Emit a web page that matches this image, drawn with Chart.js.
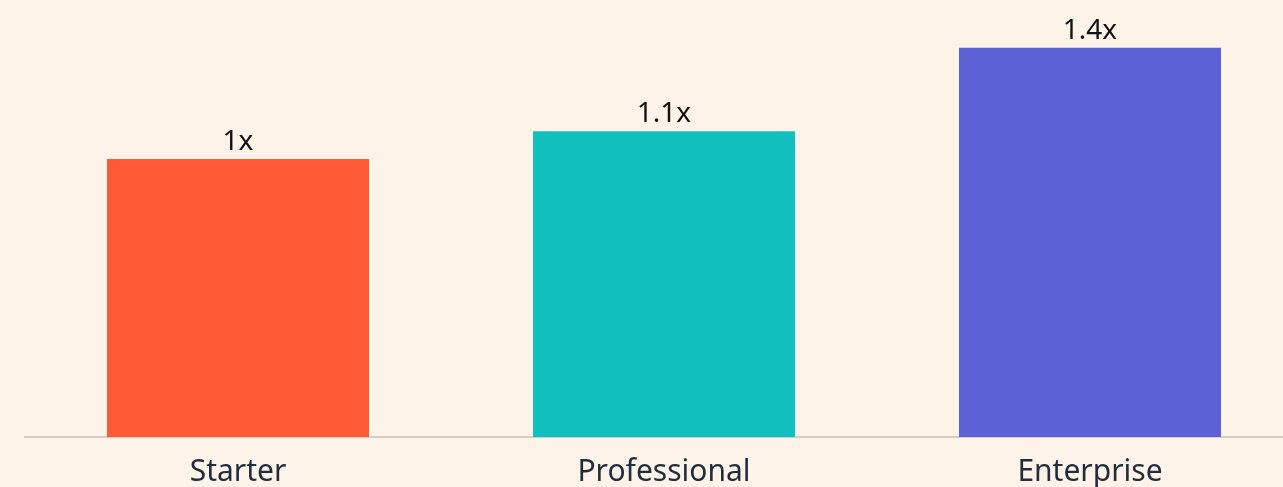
<!DOCTYPE html>
<html>
<head>
<meta charset="utf-8">
<script src="https://cdn.jsdelivr.net/npm/chart.js@4"></script>
<style>
    html, body { margin: 0; padding: 0; background: #FDF3E8; overflow: hidden; }
    #wrap { width: 1303px; height: 507px; position: relative; }
</style>
</head>
<body>
<div id="wrap"><canvas id="planChart"></canvas></div>
<script>
"use strict";
const plans = ['Starter', 'Professional', 'Enterprise'];
const multipliers = [1, 1.1, 1.4];
const valueLabels = ['1x', '1.1x', '1.4x'];
const barColors = ['#FF5A36', '#12BFBF', '#5C62D6'];

// draws the "1x" style labels above each bar
const valueLabelPlugin = {
    id: 'valueLabels',
    afterDatasetsDraw(chart) {
        const ctx = chart.ctx;
        const meta = chart.getDatasetMeta(0);
        ctx.save();
        ctx.font = '28px "Source Sans Pro", "Noto Sans", sans-serif';
        ctx.fillStyle = '#111111';
        ctx.textAlign = 'center';
        ctx.textBaseline = 'bottom';
        meta.data.forEach((bar, index) => {
            ctx.fillText(valueLabels[index], bar.x, bar.y - 3);
        });
        ctx.restore();
    }
};

const ctx = document.getElementById('planChart').getContext('2d');
new Chart(ctx, {
    type: 'bar',
    data: {
        labels: plans,
        datasets: [{
            data: multipliers,
            backgroundColor: barColors,
            borderWidth: 0,
            barPercentage: 1,
            categoryPercentage: 0.615
        }]
    },
    options: {
        responsive: true,
        maintainAspectRatio: false,
        animation: false,
        layout: { padding: { left: 25, right: 0, top: 20, bottom: 0 } },
        plugins: { legend: { display: false }, tooltip: { enabled: false } },
        scales: {
            x: {
                grid: { display: false, drawTicks: false },
                border: { display: true, color: '#D5CCC3', width: 2 },
                ticks: {
                    color: '#1F2D3D',
                    padding: 17,
                    font: { family: '"Source Sans Pro", "Noto Sans", sans-serif', size: 30 }
                }
            },
            y: {
                display: false,
                min: 0,
                max: 1.5
            }
        }
    },
    plugins: [valueLabelPlugin]
});
</script>
</body>
</html>
